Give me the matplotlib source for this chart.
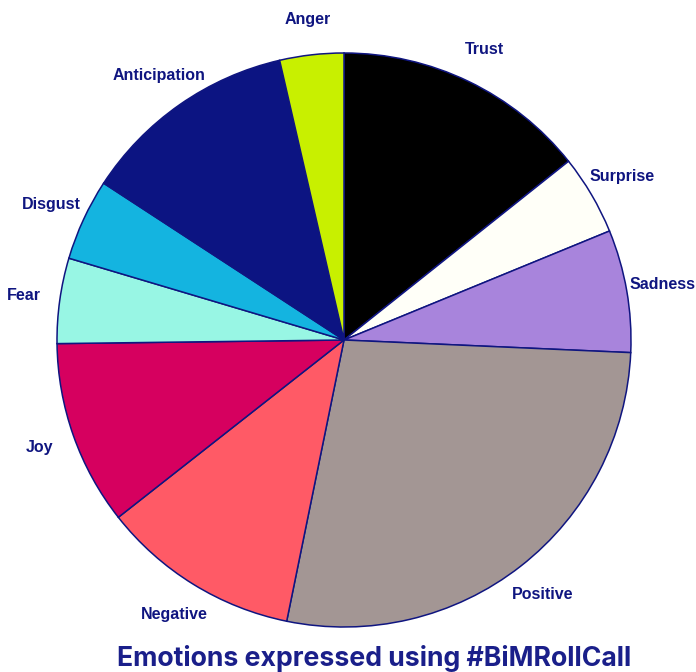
import matplotlib
matplotlib.use("Agg")
from matplotlib import pyplot as plt

# emotions, clockwise from the top
emocoes = ["Trust", "Surprise", "Sadness", "Positive", "Negative",
           "Joy", "Fear", "Disgust", "Anticipation", "Anger"]
valores = [14.3, 4.5, 6.9, 27.5, 11.2, 10.4, 4.8, 4.6, 12.2, 3.6]
cores = ["#000000", "#fffff8", "#a884dc", "#a39694", "#ff5a66",
         "#d6005f", "#98f6e4", "#14b4e0", "#0c1482", "#c8f000"]

azul = "#0f1580"

fig = plt.figure(figsize=(6.96, 6.72), dpi=100)
ax = fig.add_axes([0, 0, 1, 1])

fatias, textos = ax.pie(valores, labels=emocoes, colors=cores,
                        startangle=90, counterclock=False,
                        labeldistance=1.125,
                        wedgeprops=dict(edgecolor=azul, linewidth=1.1),
                        textprops=dict(color=azul, fontsize=11.5,
                                       fontweight="bold",
                                       family="Liberation Sans"))
for t in textos:
    t.set_ha("center")
    t.set_va("center")

# pixel layout: centre at (344, 340), radius 287
ax.set_xlim(-344 / 287, (696 - 344) / 287)
ax.set_ylim(-332 / 287, 340 / 287)
ax.set_aspect("auto")
ax.axis("off")

fig.text(374 / 696, 1 - 659 / 672, "Emotions expressed using #BiMRollCall",
         ha="center", va="center", color="#1a1f8a", fontsize=19.2,
         fontweight="bold", family="Inter")

fig.savefig("out.png", dpi=100)
